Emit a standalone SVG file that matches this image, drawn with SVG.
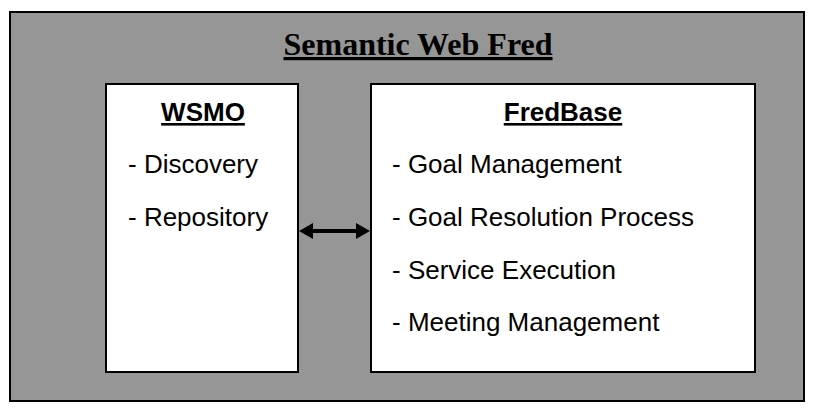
<svg xmlns="http://www.w3.org/2000/svg" width="816" height="414" viewBox="0 0 816 414">
  <style>
    .frame { fill: #969696; stroke: #000; stroke-width: 2; }
    .box { fill: #fff; stroke: #000; stroke-width: 2; }
    .title { font-family: "Liberation Serif", serif; font-weight: bold; font-size: 32px; text-decoration: underline; text-anchor: middle; }
    .head { font-family: "Liberation Sans", Arial, sans-serif; font-weight: bold; font-size: 26px; text-decoration: underline; text-anchor: middle; }
    .item { font-family: "Liberation Sans", Arial, sans-serif; font-size: 26px; }
    .conn { stroke: #000; stroke-width: 4; fill: none; }
  </style>
  <defs>
    <marker id="arrow" viewBox="0 0 14 16" refX="4" refY="8" markerWidth="14" markerHeight="16" orient="auto-start-reverse" markerUnits="userSpaceOnUse">
      <path d="M0,0 L14,8 L0,16 z" fill="#000"/>
    </marker>
  </defs>

  <g id="frame">
    <rect class="frame" x="10" y="12" width="794" height="389"/>
    <text class="title" x="418" y="55">Semantic Web Fred</text>
  </g>

  <g id="wsmo">
    <rect class="box" x="106" y="84" width="192" height="288"/>
    <text class="head" x="203" y="121">WSMO</text>
    <text class="item" x="128" y="173">- Discovery</text>
    <text class="item" x="128" y="226">- Repository</text>
  </g>

  <g id="fredbase">
    <rect class="box" x="371" y="84" width="384" height="288"/>
    <text class="head" x="563" y="121">FredBase</text>
    <text class="item" x="392" y="173">- Goal Management</text>
    <text class="item" x="392" y="226">- Goal Resolution Process</text>
    <text class="item" x="392" y="279">- Service Execution</text>
    <text class="item" x="392" y="331">- Meeting Management</text>
  </g>

  <g id="connectors">
    <line class="conn" x1="309" y1="231" x2="360" y2="231" marker-start="url(#arrow)" marker-end="url(#arrow)"/>
  </g>
</svg>
